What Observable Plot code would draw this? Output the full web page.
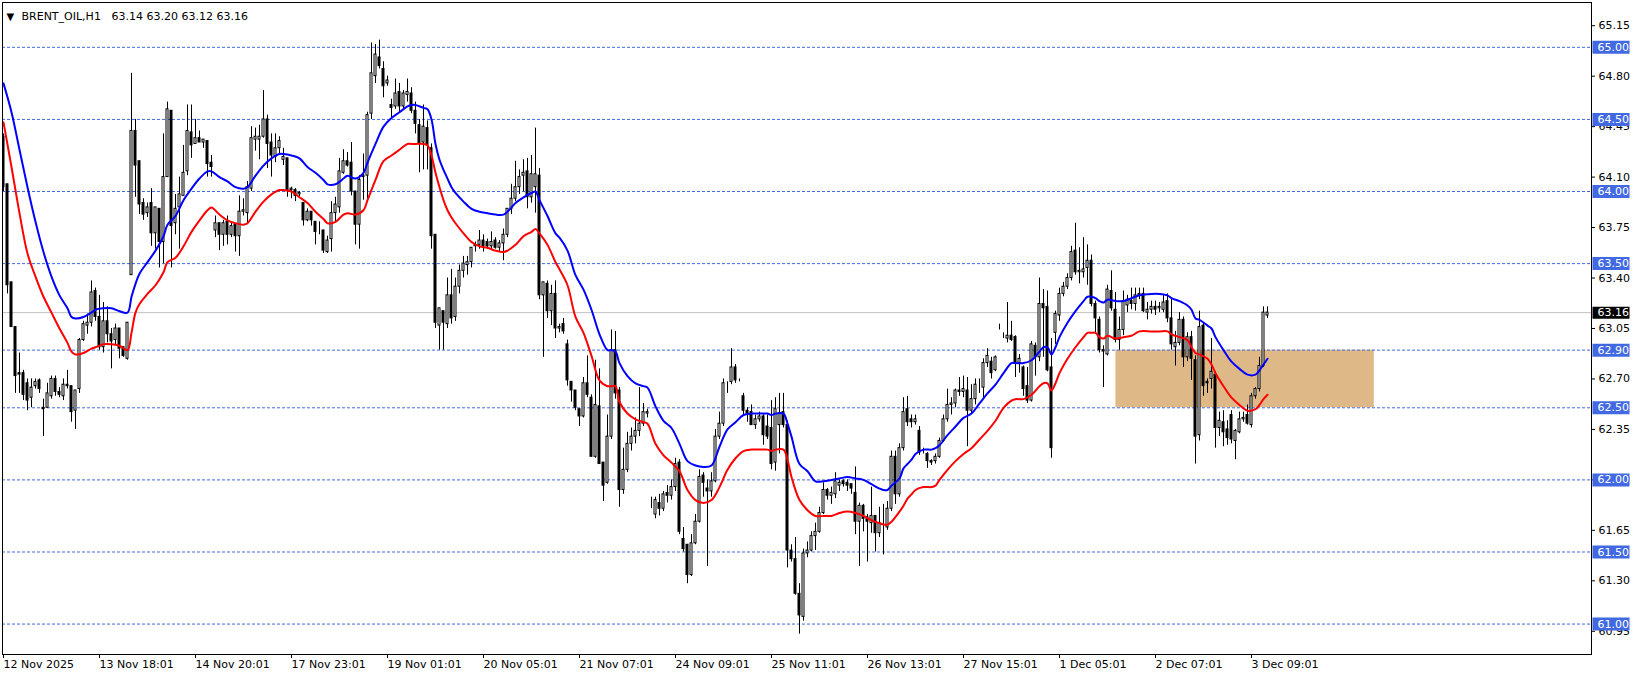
<!DOCTYPE html>
<html><head><meta charset="utf-8">
<script src="https://cdn.jsdelivr.net/npm/d3@7"></script>
<script src="https://cdn.jsdelivr.net/npm/@observablehq/plot@0.6"></script>
<style>html,body{margin:0;padding:0;background:#fff}svg{display:block}</style>
</head><body><div id="chart"></div>
<script>
// ---------- DATA (hourly candles, bar index 0..316) ----------
const open = [
64.38,64.05,63.37,63.06,62.74,62.74,62.67,62.57,62.65,62.69,
62.50,62.50,62.58,62.70,62.61,62.58,62.66,62.65,62.48,62.63,
62.97,63.07,63.09,63.31,63.13,62.92,63.10,63.01,62.97,63.05,
62.92,62.84,63.42,64.42,64.21,63.92,63.85,63.92,63.71,63.88,
63.65,64.10,64.56,63.78,63.89,63.97,64.14,64.41,64.33,64.37,
64.34,64.35,64.20,63.73,63.78,63.70,63.79,63.70,63.77,63.69,
63.86,63.85,64.02,64.36,64.36,64.38,64.50,64.34,64.24,64.30,
64.22,64.23,64.01,64.01,63.98,63.92,63.80,63.86,63.79,63.73,
63.73,63.58,63.67,63.85,63.89,64.13,64.21,64.20,64.00,63.77,
64.10,64.11,64.54,64.80,64.93,64.85,64.75,64.60,64.59,64.69,
64.59,64.67,64.68,64.56,64.46,64.34,64.44,64.30,63.70,63.07,
63.17,63.08,63.28,63.13,63.34,63.45,63.49,63.51,63.62,63.63,
63.66,63.65,63.62,63.66,63.61,63.64,63.70,63.88,63.95,64.03,
64.11,64.14,63.96,64.03,64.11,63.28,63.36,63.17,63.29,63.05,
63.08,62.94,62.68,62.62,62.49,62.44,62.67,62.57,62.16,62.51,
62.12,61.98,62.30,62.90,62.62,61.93,62.07,62.25,62.30,62.34,
62.39,62.46,61.80,61.76,61.84,61.80,61.91,61.89,61.95,62.12,
61.59,61.55,61.34,61.56,61.71,62.03,61.94,61.92,61.99,62.30,
62.39,62.68,62.68,62.78,62.69,62.58,62.48,62.47,62.38,62.42,
62.44,62.37,62.36,62.12,62.38,62.47,62.38,61.51,61.45,61.21,
61.05,61.49,61.51,61.61,61.64,61.77,61.93,61.89,61.90,61.96,
61.99,61.98,61.97,61.91,61.71,61.82,61.74,61.70,61.75,61.63,
61.70,61.67,61.80,62.16,61.90,62.22,62.49,62.42,62.40,62.34,
62.20,62.18,62.13,62.13,62.16,62.27,62.42,62.52,62.53,62.62,
62.61,62.62,62.48,62.56,62.64,62.64,62.81,62.82,62.76,63.06,
63.00,62.98,63.00,62.99,62.81,62.78,62.65,62.55,62.93,62.85,
63.22,63.20,62.78,63.02,63.14,63.29,63.34,63.40,63.59,63.44,
63.44,63.47,63.52,63.22,63.11,62.90,62.87,63.31,63.18,62.97,
63.04,63.21,63.24,63.22,63.28,63.29,63.16,63.18,63.20,63.19,
63.18,63.24,63.12,62.92,62.95,63.11,62.85,62.99,62.83,62.31,
63.07,62.68,62.70,62.73,62.36,62.40,62.35,62.45,62.27,62.33,
62.42,62.45,62.38,62.58,62.63,62.79,63.14];
const high = [
64.40,64.05,63.37,63.06,62.88,62.76,62.70,62.70,62.70,62.70,
62.56,62.67,62.72,62.72,62.64,62.70,62.76,62.65,62.62,62.98,
63.10,63.15,63.38,63.33,63.28,63.23,63.20,63.05,63.08,63.05,
62.92,63.09,64.82,64.50,64.21,63.95,63.92,64.02,63.89,63.88,
64.40,64.62,64.56,63.98,64.10,64.32,64.60,64.60,64.50,64.42,
64.36,64.35,64.25,63.83,63.78,63.80,63.83,63.78,63.77,63.97,
63.95,64.07,64.45,64.44,64.46,64.70,64.53,64.40,64.40,64.38,
64.30,64.23,64.03,64.02,64.00,63.92,63.88,63.86,63.79,63.79,
63.73,63.69,63.93,63.96,64.23,64.29,64.27,64.34,64.00,64.11,
64.26,64.55,65.03,65.02,65.05,64.90,64.80,64.64,64.78,64.75,
64.70,64.78,64.72,64.62,64.50,64.60,64.49,64.33,63.70,63.19,
63.17,63.40,63.46,63.40,63.49,63.55,63.55,63.61,63.65,63.73,
63.70,63.67,63.72,63.68,63.66,63.74,63.88,64.05,64.21,64.15,
64.22,64.23,64.25,64.44,64.16,63.37,63.38,63.35,63.38,63.08,
63.12,62.97,62.68,62.62,62.49,62.71,62.86,62.59,62.83,62.77,
62.12,62.45,63.04,63.03,62.64,62.22,62.33,62.36,62.43,62.64,
62.53,62.49,61.88,61.88,61.90,61.92,61.96,62.00,62.15,62.14,
61.67,61.55,61.62,61.76,62.07,62.05,62.00,62.05,62.35,62.47,
62.70,62.68,62.91,62.80,62.70,62.60,62.50,62.52,62.45,62.47,
62.46,62.45,62.55,62.57,62.60,62.60,62.41,61.55,61.60,61.28,
61.52,61.57,61.64,61.70,61.81,61.98,61.94,61.95,62.05,62.00,
62.00,62.00,61.97,62.09,61.84,61.83,61.76,61.95,61.75,61.81,
61.83,61.85,62.20,62.20,62.25,62.57,62.58,62.45,62.45,62.37,
62.22,62.19,62.14,62.18,62.29,62.45,62.63,62.57,62.63,62.71,
62.72,62.71,62.66,62.70,62.70,62.84,62.91,62.85,62.86,63.08,
63.02,63.23,63.10,63.00,62.87,62.79,62.78,62.96,62.95,63.40,
63.32,63.31,62.98,63.17,63.33,63.37,63.43,63.62,63.78,63.61,
63.68,63.63,63.56,63.24,63.13,62.93,63.35,63.45,63.30,63.13,
63.31,63.28,63.33,63.33,63.33,63.33,63.23,63.24,63.24,63.23,
63.28,63.29,63.25,63.03,63.16,63.13,63.02,63.03,62.86,63.17,
63.09,62.70,62.98,62.75,62.47,62.48,62.41,62.48,62.35,62.47,
62.47,62.52,62.60,62.64,62.85,63.20,63.20];
const low = [
64.00,63.29,63.06,62.60,62.60,62.55,62.48,62.50,62.63,62.60,
62.30,62.50,62.56,62.58,62.57,62.55,62.63,62.40,62.35,62.60,
62.96,63.01,63.06,63.10,62.90,62.88,62.95,62.77,62.93,62.84,
62.85,62.83,63.42,63.96,63.84,63.80,63.82,63.62,63.60,63.47,
63.50,64.10,63.47,63.70,63.60,63.97,64.11,64.23,64.33,64.34,
64.30,64.10,64.10,63.68,63.59,63.62,63.63,63.68,63.58,63.55,
63.83,63.77,64.00,64.28,64.22,64.37,64.16,64.10,64.20,64.25,
64.18,63.96,63.95,63.93,63.96,63.76,63.79,63.76,63.63,63.70,
63.57,63.57,63.58,63.78,63.85,64.12,64.17,63.97,63.63,63.60,
63.94,63.93,64.50,64.75,64.85,64.65,64.73,64.50,64.57,64.55,
64.57,64.62,64.54,64.40,64.13,64.15,64.15,63.60,63.05,62.90,
62.90,63.05,63.08,63.10,63.29,63.40,63.42,63.47,63.58,63.60,
63.58,63.60,63.60,63.60,63.58,63.52,63.68,63.84,63.93,63.98,
64.00,63.88,63.92,63.85,63.25,62.85,63.12,63.07,62.98,63.02,
63.01,62.65,62.54,62.48,62.37,62.43,62.57,62.16,62.15,62.11,
61.85,61.97,62.28,62.56,61.81,61.90,62.05,62.20,62.25,62.30,
62.37,62.43,61.80,61.73,61.75,61.78,61.84,61.86,61.92,61.62,
61.50,61.28,61.33,61.55,61.70,61.88,61.40,61.88,61.98,62.28,
62.37,62.60,62.66,62.67,62.68,62.45,62.40,62.38,62.35,62.40,
62.24,62.28,62.07,62.06,62.18,62.36,61.39,61.43,61.20,60.93,
61.02,61.46,61.50,61.51,61.63,61.76,61.86,61.83,61.87,61.92,
61.95,61.92,61.90,61.62,61.40,61.64,61.43,61.63,61.50,61.60,
61.48,61.65,61.78,61.83,61.88,62.20,62.37,62.36,62.38,62.17,
62.18,62.08,62.10,62.11,62.15,62.26,62.40,62.45,62.50,62.58,
62.57,62.23,62.46,62.52,62.60,62.56,62.78,62.70,62.75,63.04,
62.98,62.95,62.96,62.71,62.74,62.58,62.53,62.54,62.72,62.82,
62.85,62.75,62.15,62.94,63.10,63.27,63.32,63.38,63.42,63.36,
63.40,63.35,63.20,63.01,62.88,62.64,62.86,63.17,62.95,62.90,
63.00,63.16,63.18,63.17,63.25,63.16,63.11,63.15,63.14,63.16,
63.16,63.09,62.90,62.79,62.93,62.78,62.82,62.69,62.11,62.27,
62.58,62.60,62.63,62.22,62.30,62.23,62.24,62.25,62.14,62.32,
62.40,62.38,62.36,62.56,62.61,62.78,63.12];
const close = [
64.03,63.35,63.06,62.72,62.73,62.59,62.55,62.64,62.68,62.63,
62.49,62.60,62.70,62.61,62.59,62.66,62.65,62.47,62.62,62.97,
63.08,63.09,63.30,63.13,62.92,63.10,63.01,62.96,63.05,62.91,
62.86,63.09,64.42,64.18,63.91,63.84,63.89,63.71,63.89,63.65,
64.10,64.57,63.76,63.88,63.98,64.13,64.42,64.32,64.37,64.34,
64.36,64.19,64.17,63.78,63.70,63.78,63.70,63.76,63.69,63.86,
63.87,64.03,64.37,64.38,64.38,64.50,64.33,64.25,64.30,64.35,
64.24,64.01,64.02,63.97,63.99,63.80,63.86,63.80,63.72,63.73,
63.59,63.66,63.85,63.91,64.14,64.21,64.18,64.00,63.77,64.08,
64.11,64.53,64.82,64.95,64.87,64.73,64.77,64.58,64.68,64.59,
64.68,64.69,64.56,64.47,64.33,64.45,64.32,63.69,63.09,63.19,
63.09,63.28,63.12,63.34,63.45,63.50,63.51,63.61,63.63,63.66,
63.62,63.62,63.65,63.61,63.64,63.70,63.88,63.95,64.03,64.10,
64.13,63.96,64.12,64.12,63.28,63.37,63.17,63.29,63.05,63.06,
63.03,62.69,62.62,62.50,62.44,62.67,62.59,62.16,62.52,62.11,
61.96,62.30,62.90,62.60,61.93,62.07,62.25,62.30,62.34,62.39,
62.47,62.47,61.80,61.86,61.80,61.90,61.89,61.95,62.11,61.64,
61.52,61.34,61.56,61.71,62.02,61.98,61.92,61.99,62.30,62.39,
62.67,62.68,62.78,62.69,62.69,62.48,62.46,62.38,62.42,62.44,
62.31,62.30,62.11,62.49,62.46,62.38,61.51,61.45,61.21,61.06,
61.49,61.51,61.61,61.64,61.77,61.93,61.89,61.91,61.99,61.98,
61.97,61.96,61.94,61.71,61.82,61.73,61.71,61.75,61.63,61.70,
61.70,61.80,62.16,61.90,62.22,62.47,62.40,62.40,62.42,62.19,
62.20,62.13,62.12,62.16,62.27,62.42,62.52,62.53,62.62,62.61,
62.63,62.48,62.56,62.66,62.64,62.81,62.86,62.74,62.85,63.06,
63.00,63.00,62.97,62.81,62.84,62.63,62.55,62.94,62.85,63.22,
63.19,62.76,62.22,63.15,63.29,63.34,63.40,63.58,63.44,63.45,
63.46,63.52,63.22,63.12,62.90,62.89,63.32,63.19,62.97,63.04,
63.24,63.25,63.22,63.28,63.29,63.17,63.18,63.20,63.18,63.20,
63.23,63.12,62.94,62.95,63.11,62.85,62.99,62.84,62.30,63.06,
62.65,62.67,62.75,62.36,62.41,62.33,62.29,62.28,62.34,62.42,
62.43,62.39,62.58,62.63,62.79,63.16,63.16];

// Moving-average lines (bar index, blue value, red value)
const maBars = [
0,2,4,6,8,10,12,14,16,17, 18,20,22,23,25,27,29,31,32,33,
34,36,38,40,41,43,45,47,49,51, 52,54,56,58,60,61,63,65,67,69,
70,72,74,76,78,80,81,83,85,86, 88,90,91,93,95,97,99,101,102,103,
105,106,107,108,109,110,111,112,113,115, 117,119,121,123,125,126,128,130,132,133,
134,136,138,139,141,143,145,147,149,151, 152,153,154,156,158,160,161,163,165,167,
169,171,173,175,177,179,181,183,185,187, 189,191,192,193,195,196,197,199,201,203,
205,207,209,211,213,215,217,219,220,221, 222,224,225,226,227,228,230,232,233,234,
236,238,240,242,244,246,248,250,252,253, 255,257,259,260,261,262,263,264,266,268,
270,271,272,273,274,275,276,278,280,282, 284,287,289,291,292,294,296,297,298,299,
301,302,303,305,307,309,311,313,314,315,316];
const maBlue = [
64.75,64.55,64.29,64.03,63.79,63.58,63.41,63.28,63.19,63.13, 63.12,63.13,63.16,63.18,63.19,63.19,63.17,63.16,63.27,63.36,
63.43,63.51,63.59,63.69,63.77,63.83,63.94,64.02,64.09,64.14, 64.14,64.10,64.07,64.03,64.02,64.03,64.11,64.18,64.23,64.26,
64.26,64.25,64.23,64.17,64.13,64.08,64.05,64.05,64.09,64.11, 64.09,64.13,64.20,64.33,64.45,64.51,64.55,64.59,64.60,64.60,
64.58,64.57,64.50,64.33,64.22,64.15,64.09,64.03,63.99,63.93, 63.88,63.86,63.85,63.84,63.84,63.86,63.92,63.96,63.99,64.00,
63.94,63.83,63.71,63.68,63.59,63.42,63.32,63.18,63.01,62.90, 62.90,62.89,62.81,62.72,62.67,62.65,62.64,62.51,62.41,62.36,
62.25,62.13,62.10,62.09,62.10,62.23,62.35,62.40,62.45,62.46, 62.46,62.46,62.45,62.46,62.46,62.39,62.30,62.11,62.06,61.99,
61.99,62.00,62.01,62.02,62.01,62.00,61.97,61.94,61.93,61.93, 61.96,62.01,62.08,62.11,62.14,62.18,62.21,62.21,62.22,62.24,
62.31,62.37,62.43,62.46,62.53,62.60,62.66,62.74,62.81,62.81, 62.81,62.83,62.89,62.92,62.92,62.87,62.92,62.99,63.09,63.17,
63.24,63.27,63.27,63.26,63.24,63.23,63.25,63.24,63.24,63.26, 63.28,63.29,63.29,63.28,63.26,63.24,63.21,63.18,63.12,63.11,
63.07,63.05,62.99,62.90,62.82,62.77,62.73,62.73,62.76,62.80,62.84];
const maRed = [
64.48,64.17,63.85,63.57,63.41,63.27,63.16,63.05,62.95,62.89, 62.87,62.88,62.91,62.92,62.94,62.94,62.93,62.90,63.02,63.16,
63.22,63.29,63.35,63.44,63.51,63.54,63.62,63.72,63.80,63.87, 63.89,63.84,63.80,63.78,63.77,63.78,63.86,63.93,63.98,64.01,
64.01,64.00,63.96,63.92,63.86,63.81,63.78,63.79,63.84,63.85, 63.84,63.87,63.94,64.08,64.21,64.25,64.29,64.33,64.33,64.33,
64.33,64.32,64.25,64.13,64.03,63.94,63.87,63.82,63.78,63.71, 63.65,63.62,63.61,63.59,63.58,63.59,63.63,63.69,63.72,63.74,
63.71,63.63,63.51,63.46,63.35,63.13,63.02,62.86,62.69,62.65, 62.65,62.65,62.54,62.46,62.42,62.40,62.39,62.25,62.17,62.12,
62.06,61.93,61.86,61.84,61.86,61.95,62.07,62.15,62.20,62.21, 62.21,62.21,62.20,62.21,62.21,62.14,62.02,61.86,61.79,61.75,
61.75,61.75,61.77,61.78,61.77,61.75,61.72,61.70,61.69,61.69, 61.71,61.78,61.82,61.87,61.90,61.93,61.95,61.95,61.96,62.00,
62.07,62.13,62.18,62.22,62.28,62.34,62.41,62.50,62.55,62.56, 62.56,62.59,62.65,62.67,62.67,62.62,62.67,62.74,62.84,62.92,
62.99,63.02,63.02,63.02,62.99,62.98,63.00,62.98,62.99,63.00, 63.03,63.03,63.03,63.03,63.01,62.99,62.97,62.92,62.88,62.87,
62.84,62.80,62.74,62.65,62.57,62.52,62.48,62.49,62.52,62.56,62.59];

const levels = [65.00, 64.50, 64.00, 63.50, 62.90, 62.50, 62.00, 61.50, 61.00];
const bidPrice = [63.16];
const zoneBars = [278.1, 342.7];
const zonePrices = [62.50, 62.90];
const yTicks = [60.95,61.30,61.65,62.00,62.35,62.70,63.05,63.40,63.75,64.10,64.45,64.80,65.15];
const xTickBars = [0,24,48,72,96,120,144,168,192,216,240,264,288,312];
const xTickLabels = ["12 Nov 2025","13 Nov 18:01","14 Nov 20:01","17 Nov 23:01","19 Nov 01:01","20 Nov 05:01","21 Nov 07:01","24 Nov 09:01","25 Nov 11:01","26 Nov 13:01","27 Nov 15:01","1 Dec 05:01","2 Dec 07:01","3 Dec 09:01"];
const symbolText = "BRENT_OIL,H1";
const quoteText = "63.14 63.20 63.12 63.16";

// ---------- LAYOUT ----------
const W = 1641, H = 678;
const mL = 2, mR = 50, mT = 2, mB = 24;
const xDomain = [-0.25, 397];
const yDomain = [60.789, 65.311];
const xPix = d3.scaleLinear().domain(xDomain).range([mL, W - mR]);
const boxX1 = xPix.invert(1592.5), boxX2 = xPix.invert(1629.5), boxTextX = xPix.invert(1597);
const FONT = "DejaVu Sans";
const LEVEL = "#4169E1";
const fmt = d3.format(".2f");

const bars = open.map((o, i) => ({i, o, h: Math.max(high[i], o, close[i]), l: Math.min(low[i], o, close[i]), c: close[i]}));
const bulls = bars.filter(d => d.c >= d.o);
const bears = bars.filter(d => d.c < d.o);
const ma = maBars.map((i, k) => ({i, blue: maBlue[k], red: maRed[k]}));
const tickLabel = new Map(xTickBars.map((b, k) => [b, xTickLabels[k]]));

const chart = Plot.plot({
  width: W, height: H,
  marginLeft: mL, marginRight: mR, marginTop: mT, marginBottom: mB,
  style: {fontFamily: FONT, fontSize: "11px", color: "black", background: "white", overflow: "visible"},
  x: {domain: xDomain, axis: null},
  y: {domain: yDomain, axis: null},
  marks: [
    Plot.rect([0], {x1: zoneBars[0], x2: zoneBars[1], y1: zonePrices[0], y2: zonePrices[1], fill: "#DEB887"}),
    Plot.ruleY(levels, {stroke: LEVEL, strokeDasharray: "3,2", strokeWidth: 1}),
    Plot.ruleY(bidPrice, {stroke: "#C0C0C0", strokeWidth: 1}),
    Plot.ruleX(bars, {x: "i", y1: "l", y2: "h", stroke: "black", strokeWidth: 1, clip: true}),
    Plot.rect(bears, {x1: d => d.i - 0.25, x2: d => d.i + 0.25, y1: "o", y2: "c", fill: "black", stroke: "black", strokeWidth: 1, clip: true}),
    Plot.rect(bulls, {x1: d => d.i - 0.25, x2: d => d.i + 0.25, y1: "o", y2: "c", fill: "white", stroke: "black", strokeWidth: 1, clip: true}),
    Plot.line(ma, {x: "i", y: "blue", stroke: "#0000FF", strokeWidth: 2, curve: "catmull-rom"}),
    Plot.line(ma, {x: "i", y: "red", stroke: "#FF0000", strokeWidth: 2, curve: "catmull-rom"}),
    Plot.frame({stroke: "black"}),
    Plot.axisY(yTicks, {anchor: "right", tickFormat: fmt, tickSize: 3, tickPadding: 4, label: null, fontSize: 11}),
    Plot.axisX(xTickBars, {anchor: "bottom", tickFormat: b => tickLabel.get(b), tickSize: 4, tickPadding: 2, textAnchor: "start", label: null, fontSize: 11}),
    Plot.ruleY(levels, {x1: boxX1, x2: boxX2, stroke: LEVEL, strokeWidth: 13}),
    Plot.text(levels, {x: boxTextX, y: d => d, text: fmt, fill: "white", textAnchor: "start", fontSize: 11}),
    Plot.ruleY(bidPrice, {x1: boxX1, x2: boxX2, stroke: "black", strokeWidth: 12}),
    Plot.text(bidPrice, {x: boxTextX, y: d => d, text: fmt, fill: "white", textAnchor: "start", fontSize: 11}),
    Plot.text([symbolText], {frameAnchor: "top-left", dx: 19, dy: 10, text: d => d, textAnchor: "start", fontSize: 11}),
    Plot.text([quoteText], {frameAnchor: "top-left", dx: 109, dy: 10, text: d => d, textAnchor: "start", fontSize: 11}),
    Plot.text(["▼"], {frameAnchor: "top-left", dx: 4, dy: 10, text: d => d, textAnchor: "start", fontSize: 10})
  ]
});
document.getElementById("chart").appendChild(chart);
</script>
</body></html>
